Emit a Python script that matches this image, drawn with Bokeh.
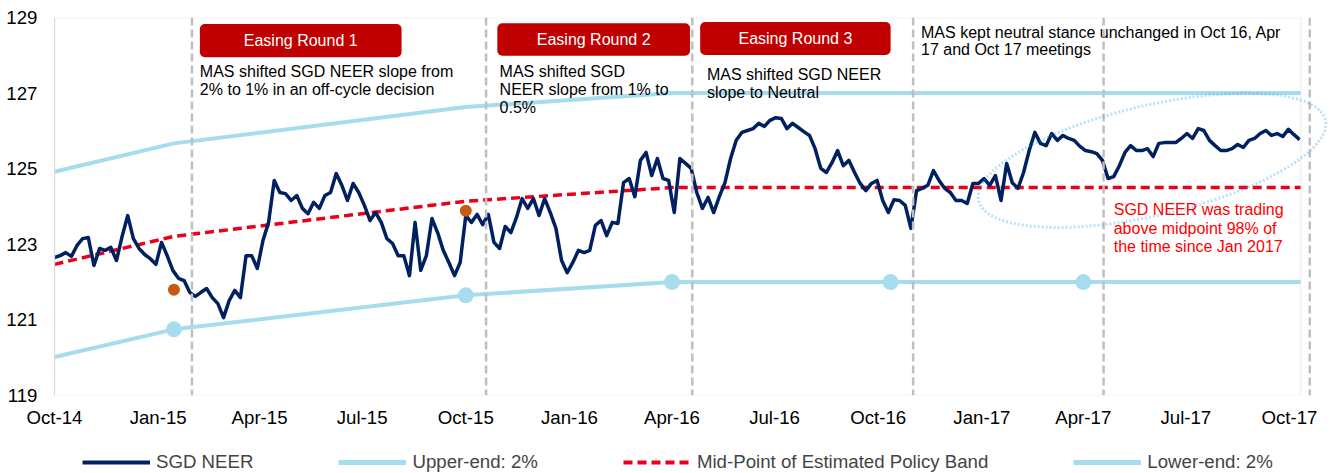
import numpy as np
import pandas as pd
from bokeh.plotting import figure
from bokeh.layouts import column
from bokeh.models import (Range1d, FixedTicker, DatetimeTickFormatter, Span, Label,
                          BoxAnnotation, PolyAnnotation, Legend, LegendItem, ColumnDataSource)
from bokeh.embed import file_html
from bokeh.resources import INLINE

FONT = "Liberation Sans"

# ---------------- data ----------------
neer_start = "2014-10-01"
neer_step_days = 5
neer_values = [
    122.65, 122.70, 122.78, 122.68, 122.97, 123.15, 123.18, 122.44, 122.89, 122.84,
    122.92, 122.57, 123.21, 123.76, 123.15, 122.89, 122.73, 122.62, 122.47, 123.05,
    122.70, 122.31, 122.10, 122.04, 121.73, 121.62, 121.73, 121.83, 121.59, 121.43,
    121.06, 121.51, 121.78, 121.59, 122.70, 122.70, 122.36, 123.10, 123.58, 124.69,
    124.37, 124.34, 124.16, 124.29, 123.95, 123.81, 124.11, 123.95, 124.29, 124.37,
    124.87, 124.56, 124.16, 124.61, 124.37, 124.03, 123.63, 123.84, 123.58, 123.15,
    123.02, 122.70, 122.70, 122.17, 123.58, 122.31, 122.70, 123.68, 123.31, 122.84,
    122.52, 122.17, 122.52, 123.76, 123.58, 123.79, 123.52, 123.79, 123.05, 122.89,
    123.47, 123.31, 123.71, 124.21, 123.95, 124.21, 123.76, 124.21, 123.84, 123.42,
    122.57, 122.25, 122.52, 122.84, 122.78, 122.84, 123.50, 123.63, 123.23, 123.58,
    123.55, 124.63, 124.74, 124.26, 125.22, 125.43, 124.82, 125.27, 124.74, 124.69,
    123.84, 125.27, 125.14, 125.01, 124.37, 123.95, 124.24, 123.84, 124.26, 124.63,
    125.27, 125.75, 125.96, 126.01, 126.06, 126.20, 126.12, 126.28, 126.35, 126.33,
    126.06, 126.20, 126.09, 125.98, 125.88, 125.53, 125.01, 124.90, 125.16, 125.48,
    125.08, 125.22, 124.90, 124.61, 124.42, 124.61, 124.69, 124.16, 123.84, 124.18,
    124.16, 124.03, 123.42, 124.42, 124.48, 124.56, 124.95, 124.69, 124.48, 124.37,
    124.16, 124.16, 124.08, 124.61, 124.61, 124.74, 124.56, 124.82, 124.16, 125.14,
    124.63, 124.48, 124.90, 125.48, 125.96, 125.67, 125.61, 125.93, 125.75, 125.88,
    125.80, 125.75, 125.59, 125.48, 125.45, 125.40, 125.22, 124.74, 124.79, 125.08,
    125.43, 125.61, 125.48, 125.48, 125.53, 125.32, 125.67, 125.69, 125.69, 125.69,
    125.80, 125.93, 125.80, 126.06, 126.01, 125.75, 125.61, 125.48, 125.48, 125.53,
    125.64, 125.56, 125.75, 125.80, 125.93, 126.01, 125.88, 125.93, 125.85, 126.04,
    125.90, 125.77,
]

band_dates = ["2014-10-01", "2015-01-15", "2015-10-01", "2016-04-01", "2017-10-11"]
upper_values = [124.92, 125.67, 126.63, 127.00, 127.00]
mid_values = [122.47, 123.21, 124.14, 124.50, 124.50]
lower_values = [120.02, 120.75, 121.65, 122.00, 122.00]

review_dot_dates = ["2015-01-15", "2015-10-01", "2016-04-01", "2016-10-12", "2017-04-01"]
review_dot_values = [120.75, 121.65, 122.00, 122.00, 122.00]

neer_dot_dates = ["2015-01-15", "2015-10-01"]
neer_dot_values = [121.80, 123.89]

event_dates = ["2015-01-31", "2015-10-19", "2016-04-19", "2016-11-01", "2017-04-19", "2017-10-19"]

tick_dates = ["2014-10-01", "2015-01-01", "2015-04-01", "2015-07-01", "2015-10-01",
              "2016-01-01", "2016-04-01", "2016-07-01", "2016-10-01", "2017-01-01",
              "2017-04-01", "2017-07-01", "2017-10-01"]
tick_labels = ["Oct-14", "Jan-15", "Apr-15", "Jul-15", "Oct-15", "Jan-16", "Apr-16",
               "Jul-16", "Oct-16", "Jan-17", "Apr-17", "Jul-17", "Oct-17"]
y_ticks = [119, 121, 123, 125, 127, 129]

legend_labels = ["SGD NEER", "Upper-end: 2%", "Mid-Point of Estimated Policy Band", "Lower-end: 2%"]

easing_labels = ["Easing Round 1", "Easing Round 2", "Easing Round 3"]
easing_left = ["2015-02-07", "2015-10-29", "2016-04-26"]
easing_right = ["2015-08-05", "2016-04-17", "2016-10-12"]
easing_top = [128.83, 128.85, 128.88]
easing_bottom = [127.95, 127.99, 128.01]

notes = [
    ("2015-02-07", [127.58, 127.09], ["MAS shifted SGD NEER slope from", "2% to 1% in an off-cycle decision"], "black"),
    ("2015-10-31", [127.58, 127.09, 126.61], ["MAS shifted SGD", "NEER slope from 1% to", "0.5%"], "black"),
    ("2016-05-02", [127.49, 127.01], ["MAS shifted SGD NEER", "slope to Neutral"], "black"),
    ("2016-11-08", [128.61, 128.15], ["MAS kept neutral stance unchanged in Oct 16, Apr", "17 and Oct 17 meetings"], "black"),
    ("2017-04-28", [123.92, 123.43, 122.94], ["SGD NEER was trading", "above midpoint 98% of", "the time since Jan 2017"], "#ff0000"),
]

ellipse_center_date = "2017-06-01"
ellipse_center_value = 125.22

x_start = "2014-10-01"
x_end = "2017-11-05 12:00"        # drawing area (leaves room for the highlight ellipse)
box_end = "2017-10-11"            # visible plot-area border


def ms(d):
    return pd.Timestamp(d).value / 1e6


# ---------------- main figure ----------------
W, H = 1331, 433
B_LEFT, B_RIGHT, B_TOP, B_BOTTOM = 54, 2, 17, 38
FRAME_W, FRAME_H = W - B_LEFT - B_RIGHT, H - B_TOP - B_BOTTOM
p = figure(width=W, height=H, x_axis_type="datetime",
           x_range=Range1d(ms(x_start), ms(x_end)), y_range=Range1d(119, 129),
           output_backend="svg", toolbar_location=None,
           min_border_left=B_LEFT, min_border_right=B_RIGHT, min_border_top=B_TOP,
           min_border_bottom=B_BOTTOM,
           background_fill_color="white", border_fill_color="white")
p.xgrid.visible = False
p.ygrid.visible = False
p.outline_line_color = None

for ax in (p.xaxis[0], p.yaxis[0]):
    ax.major_tick_line_color = None
    ax.minor_tick_line_color = None
    ax.major_tick_out = 0
    ax.major_tick_in = 0
    ax.major_label_text_font = FONT
    ax.major_label_text_font_size = "18.67px"
    ax.major_label_text_color = "#000000"
p.yaxis.axis_line_color = "#d9d9d9"
p.xaxis.axis_line_color = None

p.yaxis.ticker = FixedTicker(ticks=y_ticks)
p.yaxis.major_label_standoff = 17
p.xaxis.ticker = FixedTicker(ticks=[ms(d) for d in tick_dates])
p.xaxis.formatter = DatetimeTickFormatter(days="%b-%y", months="%b-%y", years="%b-%y")
p.xaxis.major_label_overrides = {ms(d): lab for d, lab in zip(tick_dates, tick_labels)}
p.xaxis.major_label_standoff = 11

# plot-area border
p.add_layout(BoxAnnotation(left=ms(x_start), right=ms(box_end), bottom=119, top=129,
                           fill_alpha=0, line_color="#d9d9d9", line_width=2))

neer_dates = pd.date_range(neer_start, periods=len(neer_values), freq=f"{neer_step_days}D")
neer_src = ColumnDataSource(dict(date=neer_dates, value=neer_values))
band_src = ColumnDataSource(dict(date=pd.to_datetime(band_dates), upper=upper_values,
                                 mid=mid_values, lower=lower_values))

BAND = "#a6dcee"
NAVY = "#002060"
RED = "#e8001c"
p.line("date", "upper", source=band_src, line_color=BAND, line_width=4)
p.line("date", "lower", source=band_src, line_color=BAND, line_width=4)
p.line("date", "mid", source=band_src, line_color=RED, line_width=3.5, line_dash="9 5")
p.line("date", "value", source=neer_src, line_color=NAVY, line_width=3.5, line_join="round")

p.scatter(pd.to_datetime(review_dot_dates), review_dot_values, size=16, fill_color=BAND,
          line_color=None)
p.scatter(pd.to_datetime(neer_dot_dates), neer_dot_values, size=12, fill_color="#c55a11",
          line_color=None)

# easing boxes
for lab, l, r, t, b in zip(easing_labels, easing_left, easing_right, easing_top, easing_bottom):
    p.add_layout(BoxAnnotation(left=ms(l), right=ms(r), top=t, bottom=b, fill_color="#c00000",
                               fill_alpha=1.0, line_color=None, border_radius=5))
    p.add_layout(Label(x=(ms(l) + ms(r)) / 2, y=(t + b) / 2, text=lab, text_align="center",
                       text_baseline="middle", text_color="white", text_font=FONT,
                       text_font_size="16px"))

# notes
for d, ys, lines, col in notes:
    for yv, txt in zip(ys, lines):
        p.add_layout(Label(x=ms(d), y=yv, text=txt, text_align="left", text_baseline="middle",
                           text_color=col, text_font=FONT, text_font_size="16px"))

# event lines
for d in event_dates:
    p.add_layout(Span(location=ms(d), dimension="height", line_color="#bfbfbf",
                      line_width=2.5, line_dash="8 4"))

# dotted highlight ellipse (annotation outline)
px_per_ms = FRAME_W / (ms(x_end) - ms(x_start))
px_per_unit = FRAME_H / 10.0
a_px, b_px, theta = 178.0, 55.0, np.deg2rad(13.1)
t = np.linspace(0, 2 * np.pi, 200)
dx = a_px * np.cos(t) * np.cos(theta) - b_px * np.sin(t) * np.sin(theta)
dy = a_px * np.cos(t) * np.sin(theta) + b_px * np.sin(t) * np.cos(theta)
p.add_layout(PolyAnnotation(xs=list(ms(ellipse_center_date) + dx / px_per_ms),
                            ys=list(ellipse_center_value + dy / px_per_unit),
                            fill_alpha=0, line_color="#1b9de0", line_width=3,
                            line_dash="2 2"))

# ---------------- legend strip ----------------
leg = figure(width=W, height=40, x_range=Range1d(0, 1), y_range=Range1d(0, 1),
             output_backend="svg", toolbar_location=None,
             x_axis_location=None, y_axis_location=None,
             min_border_left=0, min_border_right=0, min_border_top=0, min_border_bottom=0,
             background_fill_color="white", border_fill_color="white")
leg.xgrid.visible = False
leg.ygrid.visible = False
leg.outline_line_color = None
# legend proxies: lines kept outside the strip's visible range, only their swatches show
proxy = dict(x=[5, 6], y=[5, 6])
l_neer = leg.line("x", "y", source=ColumnDataSource(proxy), line_color=NAVY, line_width=4)
l_up = leg.line("x", "y", source=ColumnDataSource(proxy), line_color=BAND, line_width=5)
l_mid = leg.line("x", "y", source=ColumnDataSource(proxy), line_color=RED, line_width=4,
                 line_dash="9 5")
l_low = leg.line("x", "y", source=ColumnDataSource(proxy), line_color=BAND, line_width=5)
legend = Legend(items=[LegendItem(label=lab, renderers=[r]) for lab, r in
                       zip(legend_labels, [l_neer, l_up, l_mid, l_low])],
                orientation="horizontal", location=(28, 0), glyph_width=68, glyph_height=20,
                label_height=20, label_standoff=6, spacing=85, padding=1, margin=0,
                label_text_font=FONT, label_text_font_size="18.67px",
                border_line_color=None, background_fill_alpha=0)
leg.add_layout(legend)

layout = column(p, leg, spacing=0)
open("out.html", "w").write(file_html(layout, INLINE))
